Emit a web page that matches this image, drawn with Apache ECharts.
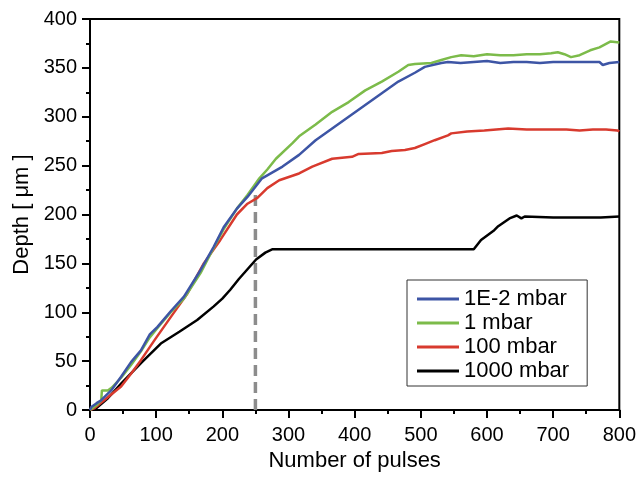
<!DOCTYPE html>
<html>
<head>
<meta charset="utf-8">
<script src="https://cdn.jsdelivr.net/npm/echarts@6/dist/echarts.min.js"></script>
<style>
  html, body { margin: 0; padding: 0; background: #fff; }
  #chart { width: 639px; height: 478px; }
</style>
</head>
<body>
<div id="chart"></div>
<script>
// pulses / depth pairs
var seriesNames = ['1E-2 mbar', '1 mbar', '100 mbar', '1000 mbar'];
var seriesColors = ['#3d55a5', '#7cbb4a', '#d83a2e', '#000000'];

var blueX = [0, 2, 10, 17, 32, 47, 62, 77, 90, 102, 122, 142, 167, 187, 202, 222, 238, 260, 291, 316, 341, 366, 391, 416, 441, 466, 491, 506, 531, 541, 560, 580, 600, 620, 640, 660, 680, 700, 720, 740, 760, 770, 775, 785, 800];
var blueY = [0, 3, 7, 10, 20, 34, 49, 61, 77, 85, 101, 116, 143, 167, 187, 206, 218, 237, 249, 261, 276, 288, 300, 312, 324, 336, 345, 351, 355, 356, 355, 356, 357, 355, 356, 356, 355, 356, 356, 356, 356, 356, 353, 355, 356];

var greenX = [0, 10, 17, 18, 27, 33, 47, 62, 77, 90, 102, 122, 142, 167, 187, 202, 222, 238, 256, 268, 281, 306, 316, 341, 366, 391, 416, 441, 466, 481, 491, 516, 531, 546, 561, 580, 600, 620, 640, 660, 680, 697, 707, 717, 727, 740, 756, 770, 787, 800];
var greenY = [0, 5, 10, 20, 20, 23, 33, 46, 60, 74, 84, 100, 114, 140, 166, 185, 206, 220, 237, 246, 257, 273, 280, 292, 305, 315, 327, 336, 346, 353, 354, 355, 358, 361, 363, 362, 364, 363, 363, 364, 364, 365, 366, 364, 361, 363, 368, 371, 377, 376];

var redX = [0, 7, 27, 47, 62, 77, 97, 122, 147, 172, 197, 222, 238, 253, 268, 286, 316, 336, 366, 396, 406, 441, 456, 476, 491, 506, 521, 541, 546, 570, 596, 632, 660, 697, 720, 740, 760, 780, 797, 800];
var redY = [0, 2, 13, 24, 37, 51, 71, 95, 119, 150, 174, 200, 211, 217, 227, 235, 242, 249, 257, 259, 262, 263, 265, 266, 268, 272, 276, 281, 283, 285, 286, 288, 287, 287, 287, 286, 287, 287, 286, 285];

var blackX = [0, 8, 27, 47, 77, 107, 135, 162, 187, 200, 212, 225, 238, 251, 265, 276, 400, 500, 580, 591, 611, 617, 634, 645, 652, 657, 700, 772, 775, 800];
var blackY = [0, 1, 12, 27, 48, 68, 80, 92, 106, 114, 123, 134, 144, 154, 161, 164.5, 164.5, 164.5, 164.5, 174, 184, 188, 196, 199, 196, 198, 197, 197, 198, 198];

var markerX = [250, 250];
var markerY = [0, 223];

var xTicks = { min: 0, max: 800, interval: 100 };
var yTicks = { min: 0, max: 400, interval: 50 };

function pairs(xs, ys) {
  return xs.map(function (x, i) { return [x, ys[i]]; });
}

var chart = echarts.init(document.getElementById('chart'));
var font = 'Liberation Sans, Arial, sans-serif';

var lines = [pairs(blueX, blueY), pairs(greenX, greenY), pairs(redX, redY), pairs(blackX, blackY)];
var series = lines.map(function (d, i) {
  return {
    name: seriesNames[i],
    type: 'line',
    data: d,
    symbol: 'none',
    z: 10 - i,
    lineStyle: { color: seriesColors[i], width: 2.5 },
    itemStyle: { color: seriesColors[i] }
  };
});
series.push({
  name: 'marker',
  type: 'line',
  data: pairs(markerX, markerY),
  symbol: 'none',
  z: 2,
  lineStyle: { color: '#8c8c8c', width: 3.5, type: [11, 6] }
});

chart.setOption({
  animation: false,
  grid: {
    left: 90, right: 17, top: 19, bottom: 68,
    show: true, borderColor: '#000', borderWidth: 2
  },
  legend: {
    data: seriesNames,
    orient: 'vertical',
    left: 407, top: 280,
    padding: [8, 18, 4, 10],
    icon: 'rect',
    itemWidth: 42, itemHeight: 3, itemGap: 2,
    borderColor: '#333', borderWidth: 1,
    textStyle: { fontFamily: font, fontSize: 22, lineHeight: 22, color: '#000' }
  },
  xAxis: {
    type: 'value',
    min: xTicks.min, max: xTicks.max, interval: xTicks.interval,
    name: 'Number of pulses',
    nameLocation: 'middle', nameGap: 39,
    nameTextStyle: { fontFamily: font, fontSize: 22, color: '#000' },
    axisLine: { lineStyle: { color: '#000', width: 2 } },
    axisTick: { length: 8, lineStyle: { color: '#000', width: 2 } },
    minorTick: { show: true, splitNumber: 2, length: 4, lineStyle: { color: '#000', width: 2 } },
    axisLabel: { margin: 15, fontFamily: font, fontSize: 20, color: '#000' },
    splitLine: { show: false }
  },
  yAxis: {
    type: 'value',
    min: yTicks.min, max: yTicks.max, interval: yTicks.interval,
    name: 'Depth [ μm ]',
    nameLocation: 'middle', nameGap: 57,
    nameTextStyle: { fontFamily: font, fontSize: 22, color: '#000' },
    axisLine: { lineStyle: { color: '#000', width: 2 } },
    axisTick: { length: 8, lineStyle: { color: '#000', width: 2 } },
    minorTick: { show: true, splitNumber: 2, length: 4, lineStyle: { color: '#000', width: 2 } },
    axisLabel: { margin: 13, fontFamily: font, fontSize: 20, color: '#000' },
    splitLine: { show: false }
  },
  series: series
});
</script>
</body>
</html>
